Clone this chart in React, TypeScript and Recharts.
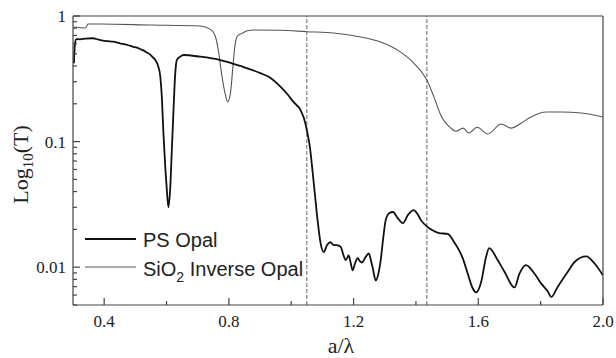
import React from 'react'
import { LineChart, Line, XAxis, YAxis, ReferenceLine } from 'recharts'

// a/λ values and transmittance for the PS opal (thick black curve)
const psOpalA = [
  0.303, 0.306, 0.31, 0.322, 0.34, 0.364, 0.38, 0.396, 0.412, 0.429, 0.445, 0.461, 0.477, 0.493, 0.505, 0.515,
  0.527, 0.538, 0.547, 0.554, 0.564, 0.573, 0.58, 0.585, 0.59, 0.596, 0.601, 0.606, 0.612, 0.617, 0.622, 0.628,
  0.633, 0.644, 0.655, 0.708, 0.773, 0.837, 0.901, 0.935, 0.966, 0.99, 1.007, 1.03, 1.042, 1.052, 1.06, 1.068,
  1.075, 1.081, 1.088, 1.094, 1.104, 1.115, 1.126, 1.136, 1.146, 1.159, 1.166, 1.175, 1.184, 1.19, 1.197, 1.205,
  1.213, 1.22, 1.226, 1.24, 1.249, 1.256, 1.261, 1.271, 1.28, 1.287, 1.295, 1.303, 1.315, 1.326, 1.342, 1.358,
  1.375, 1.393, 1.405, 1.416, 1.438, 1.453, 1.474, 1.502, 1.522, 1.55, 1.566, 1.582, 1.593, 1.609, 1.625, 1.635,
  1.662, 1.684, 1.716, 1.732, 1.753, 1.78, 1.802, 1.823, 1.834, 1.855, 1.887, 1.909, 1.946, 1.973, 2.0,
]
const psOpalT = [
  0.42, 0.59, 0.655, 0.652, 0.66, 0.665, 0.65, 0.636, 0.63, 0.624, 0.61, 0.598, 0.585, 0.569, 0.56, 0.546,
  0.53, 0.51, 0.495, 0.474, 0.446, 0.4, 0.33, 0.226, 0.117, 0.0625, 0.0411, 0.03, 0.0434, 0.0856, 0.169, 0.351,
  0.446, 0.475, 0.489, 0.474, 0.446, 0.4, 0.351, 0.32, 0.273, 0.235, 0.207, 0.178, 0.15, 0.117, 0.09, 0.0592,
  0.04, 0.0285, 0.02, 0.0156, 0.0132, 0.015, 0.0158, 0.015, 0.015, 0.0145, 0.0128, 0.0114, 0.0124, 0.011, 0.00945, 0.0108,
  0.0118, 0.0112, 0.0109, 0.0122, 0.0129, 0.0112, 0.01, 0.00785, 0.009, 0.0114, 0.017, 0.0237, 0.027, 0.0275, 0.0245, 0.0224,
  0.0262, 0.0285, 0.0265, 0.0237, 0.0208, 0.0197, 0.0187, 0.0184, 0.0159, 0.0118, 0.0089, 0.0068, 0.0063, 0.0076, 0.0121, 0.0142,
  0.0114, 0.0092, 0.0069, 0.0089, 0.0104, 0.0089, 0.0074, 0.0064, 0.0058, 0.007, 0.0092, 0.011, 0.0122, 0.0107, 0.0086,
]

// SiO2 inverse opal (thin grey curve)
const sio2A = [
  0.303, 0.32, 0.339, 0.345, 0.348, 0.387, 0.548, 0.708, 0.741, 0.757, 0.766, 0.778, 0.789, 0.796, 0.805, 0.812,
  0.819, 0.826, 0.842, 0.859, 0.879, 0.966, 1.051, 1.136, 1.223, 1.287, 1.351, 1.393, 1.435, 1.458, 1.48, 1.512,
  1.528, 1.551, 1.57, 1.596, 1.631, 1.673, 1.705, 1.737, 1.769, 1.818, 1.866, 1.93, 2.0,
]
const sio2T = [
  0.817, 0.81, 0.802, 0.84, 0.864, 0.864, 0.848, 0.832, 0.783, 0.684, 0.536, 0.329, 0.235, 0.207, 0.243, 0.371,
  0.569, 0.684, 0.727, 0.764, 0.774, 0.77, 0.75, 0.732, 0.68, 0.621, 0.516, 0.422, 0.309, 0.226, 0.162, 0.128,
  0.121, 0.128, 0.117, 0.13, 0.115, 0.138, 0.128, 0.14, 0.157, 0.172, 0.172, 0.169, 0.157,
]

// dashed band edges
const bandEdges = [1.05, 1.435]

const xMajorTicks = [0.4, 0.8, 1.2, 1.6, 2.0]
const xMinorTicks = [0.6, 1.0, 1.4, 1.8]
const yMajorTicks = [0.01, 0.1, 1]
const yMinorTicks = [
  0.005, 0.006, 0.007, 0.008, 0.009,
  0.02, 0.03, 0.04, 0.05, 0.06, 0.07, 0.08, 0.09,
  0.2, 0.3, 0.4, 0.5, 0.6, 0.7, 0.8, 0.9,
]

const psData = psOpalA.map((a, i) => ({ a, t: psOpalT[i] }))
const sioData = sio2A.map((a, i) => ({ a, t: sio2T[i] }))

const AXIS = '#444'
const SERIF = '"Liberation Serif", "Times New Roman", serif'
const SANS = '"Liberation Sans", Arial, sans-serif'

// eslint-disable-next-line @typescript-eslint/no-explicit-any
const XTick = ({ x, y, payload }: any) => {
  const major = xMajorTicks.includes(payload.value)
  return (
    <g>
      <line x1={x} y1={y} x2={x} y2={y - (major ? 7 : 4)} stroke={AXIS} strokeWidth={1.2} />
      {major && (
        <text x={x} y={y + 22} textAnchor="middle" fontFamily={SERIF} fontSize={17} fill="#222">
          {payload.value.toFixed(1)}
        </text>
      )}
    </g>
  )
}

// eslint-disable-next-line @typescript-eslint/no-explicit-any
const YTick = ({ x, y, payload }: any) => {
  const major = yMajorTicks.includes(payload.value)
  return (
    <g>
      <line x1={x} y1={y} x2={x + (major ? 7 : 4)} y2={y} stroke={AXIS} strokeWidth={1.2} />
      {major && (
        <text x={x - 7} y={y + 6} textAnchor="end" fontFamily={SERIF} fontSize={17} fill="#222">
          {String(payload.value)}
        </text>
      )}
    </g>
  )
}

// eslint-disable-next-line @typescript-eslint/no-explicit-any
const YLabel = ({ viewBox }: any) => {
  const cx = viewBox.x + 28
  const cy = viewBox.y + viewBox.height / 2 + 4
  return (
    <text x={cx} y={cy} transform={`rotate(-90, ${cx}, ${cy})`} textAnchor="middle" fontFamily={SERIF} fontSize={22} fill="#222">
      Log<tspan fontSize={15} dy={5}>10</tspan><tspan dy={-5}>(T)</tspan>
    </text>
  )
}

// eslint-disable-next-line @typescript-eslint/no-explicit-any
const XLabel = ({ viewBox }: any) => (
  <text x={viewBox.x + viewBox.width / 2 + 3} y={viewBox.y + 48} textAnchor="middle" fontFamily={SERIF} fontSize={22} fill="#222">
    a/λ
  </text>
)

const LegendBox = () => (
  <svg width={260} height={70} style={{ position: 'absolute', left: 80, top: 222 }}>
    <line x1={5} y1={17} x2={56} y2={17} stroke="#111" strokeWidth={1.8} />
    <text x={63} y={25} fontFamily={SANS} fontSize={20} fill="#222">PS Opal</text>
    <line x1={5} y1={45} x2={56} y2={45} stroke="#555" strokeWidth={1.1} />
    <text x={63} y={54} fontFamily={SANS} fontSize={20} fill="#222">
      SiO<tspan fontSize={14} dy={6}>2</tspan><tspan dy={-6}> Inverse Opal</tspan>
    </text>
  </svg>
)

export default function App() {
  return (
    <div style={{ position: 'absolute', left: 0, top: 0, width: 616, height: 358, background: '#fff' }}>
      <LineChart width={616} height={358} margin={{ top: 15, right: 12, bottom: 0, left: 0 }}>
        <XAxis
          dataKey="a"
          type="number"
          domain={[0.3, 2.0]}
          allowDataOverflow
          ticks={[...xMajorTicks, ...xMinorTicks].sort((p, q) => p - q)}
          interval={0}
          tick={<XTick />}
          tickLine={false}
          tickSize={0}
          tickMargin={0}
          axisLine={{ stroke: AXIS, strokeWidth: 1.2 }}
          height={53}
          label={<XLabel />}
        />
        <XAxis
          xAxisId="top"
          orientation="top"
          dataKey="a"
          type="number"
          domain={[0.3, 2.0]}
          allowDataOverflow
          height={1}
          tick={false}
          tickLine={false}
          axisLine={{ stroke: AXIS, strokeWidth: 1.2 }}
        />
        <YAxis
          dataKey="t"
          type="number"
          scale="log"
          domain={[0.005, 1]}
          allowDataOverflow
          ticks={[...yMinorTicks, ...yMajorTicks].sort((p, q) => p - q)}
          interval={0}
          tick={<YTick />}
          tickLine={false}
          tickSize={0}
          tickMargin={0}
          axisLine={{ stroke: AXIS, strokeWidth: 1.2 }}
          width={73}
          label={<YLabel />}
        />
        <YAxis
          yAxisId="right"
          orientation="right"
          type="number"
          scale="log"
          domain={[0.005, 1]}
          allowDataOverflow
          width={1}
          tick={false}
          tickLine={false}
          axisLine={{ stroke: AXIS, strokeWidth: 1.2 }}
        />
        {bandEdges.map((e) => (
          <ReferenceLine key={e} x={e} stroke="#666" strokeDasharray="4 2" strokeWidth={1} />
        ))}
        <Line
          data={sioData}
          dataKey="t"
          type="monotone"
          stroke="#555"
          strokeWidth={1.1}
          dot={false}
          isAnimationActive={false}
        />
        <Line
          data={psData}
          dataKey="t"
          type="monotone"
          stroke="#111"
          strokeWidth={1.8}
          dot={false}
          isAnimationActive={false}
        />
      </LineChart>
      <LegendBox />
    </div>
  )
}
